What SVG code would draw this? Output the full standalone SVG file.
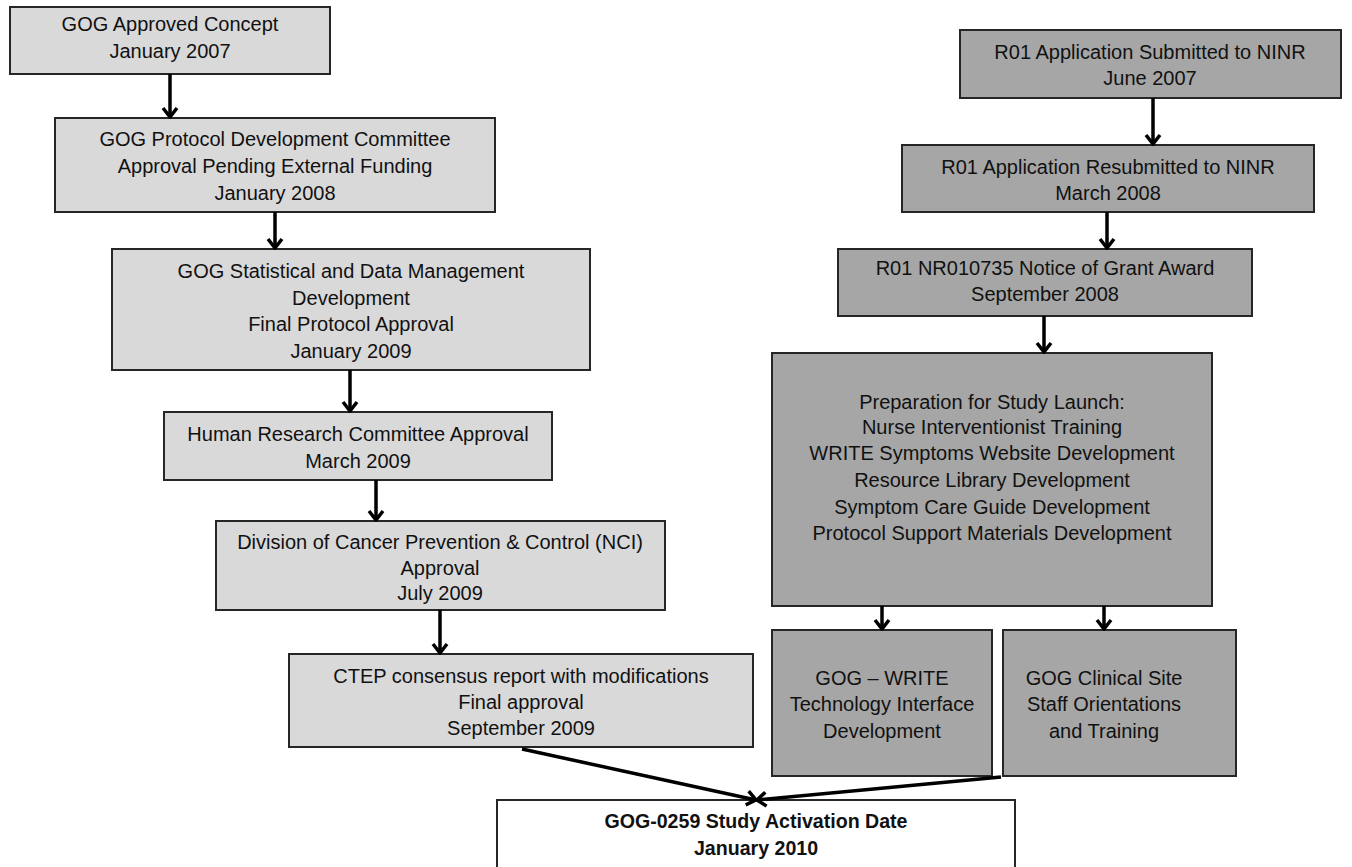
<svg xmlns="http://www.w3.org/2000/svg" width="1352" height="867" viewBox="0 0 1352 867">
<style>
.l rect{fill:#d9d9d9;stroke:#262626;stroke-width:2}
.r rect{fill:#a6a6a6;stroke:#262626;stroke-width:2}
.w rect{fill:#ffffff;stroke:#262626;stroke-width:2}
text{font-family:"Liberation Sans",Arial,sans-serif;font-size:20px;fill:#111;text-anchor:middle}
.b text{font-weight:bold;font-size:19.6px}
#connectors path{stroke:#000;stroke-width:3.5;fill:none}
</style>
<defs>
<marker id="ah" viewBox="-11 -9 13 18" refX="0" refY="0" markerWidth="13" markerHeight="18" markerUnits="userSpaceOnUse" orient="auto">
<path d="M-9,-7 L0,0 L-9,7" fill="none" stroke="#000" stroke-width="3.5" stroke-linejoin="miter"/>
</marker>
</defs>
<rect width="1352" height="867" fill="#fff"/>
<g id="n1" class="l"><rect x="10" y="7" width="320" height="67"/><text x="170" y="31">GOG Approved Concept</text><text x="170" y="58">January 2007</text></g>
<g id="n2" class="l"><rect x="55" y="118" width="440" height="94"/><text x="275" y="146">GOG Protocol Development Committee</text><text x="275" y="173">Approval Pending External Funding</text><text x="275" y="200">January 2008</text></g>
<g id="n3" class="l"><rect x="112" y="249" width="478" height="121"/><text x="351" y="278">GOG Statistical and Data Management</text><text x="351" y="305">Development</text><text x="351" y="331">Final Protocol Approval</text><text x="351" y="358">January 2009</text></g>
<g id="n4" class="l"><rect x="164" y="412" width="388" height="68"/><text x="358" y="441">Human Research Committee Approval</text><text x="358" y="468">March 2009</text></g>
<g id="n5" class="l"><rect x="216" y="521" width="449" height="89"/><text x="440" y="549">Division of Cancer Prevention &amp; Control (NCI)</text><text x="440" y="575">Approval</text><text x="440" y="600">July 2009</text></g>
<g id="n6" class="l"><rect x="289" y="654" width="464" height="93"/><text x="521" y="683">CTEP consensus report with modifications</text><text x="521" y="709">Final approval</text><text x="521" y="735">September 2009</text></g>
<g id="r1" class="r"><rect x="960" y="30" width="381" height="68"/><text x="1150" y="59">R01 Application Submitted to NINR</text><text x="1150" y="85">June 2007</text></g>
<g id="r2" class="r"><rect x="902" y="145" width="412" height="67"/><text x="1108" y="174">R01 Application Resubmitted to NINR</text><text x="1108" y="200">March 2008</text></g>
<g id="r3" class="r"><rect x="838" y="249" width="414" height="67"/><text x="1045" y="275">R01 NR010735 Notice of Grant Award</text><text x="1045" y="301">September 2008</text></g>
<g id="r4" class="r"><rect x="772" y="353" width="440" height="253"/><text x="992" y="409">Preparation for Study Launch:</text><text x="992" y="434">Nurse Interventionist Training</text><text x="992" y="460">WRITE Symptoms Website Development</text><text x="992" y="487">Resource Library Development</text><text x="992" y="514">Symptom Care Guide Development</text><text x="992" y="540">Protocol Support Materials Development</text></g>
<g id="r5" class="r"><rect x="772" y="630" width="220" height="146"/><text x="882" y="685">GOG – WRITE</text><text x="882" y="711">Technology Interface</text><text x="882" y="738">Development</text></g>
<g id="r6" class="r"><rect x="1003" y="630" width="233" height="146"/><text x="1104" y="685">GOG Clinical Site</text><text x="1104" y="711">Staff Orientations</text><text x="1104" y="738">and Training</text></g>
<g id="end" class="w b"><rect x="497" y="800" width="518" height="80"/><text x="756" y="828">GOG-0259 Study Activation Date</text><text x="756" y="855">January 2010</text></g>
<g id="connectors">
<path d="M170,74 V117" marker-end="url(#ah)"/>
<path d="M275,212 V248" marker-end="url(#ah)"/>
<path d="M350,370 V411" marker-end="url(#ah)"/>
<path d="M376,480 V520" marker-end="url(#ah)"/>
<path d="M440,610 V653" marker-end="url(#ah)"/>
<path d="M1153,98 V144" marker-end="url(#ah)"/>
<path d="M1107,212 V248" marker-end="url(#ah)"/>
<path d="M1044,316 V352" marker-end="url(#ah)"/>
<path d="M882,606 V629" marker-end="url(#ah)"/>
<path d="M1104,606 V629" marker-end="url(#ah)"/>
<path d="M522,749 L756,800" marker-end="url(#ah)"/>
<path d="M1001,777 L757,800" marker-end="url(#ah)"/>
</g>
</svg>
